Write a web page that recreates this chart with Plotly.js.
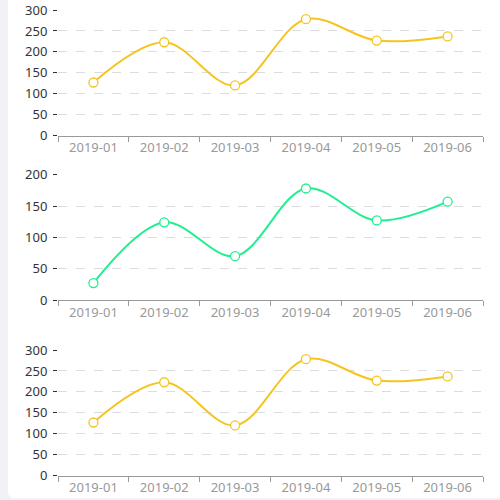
<!DOCTYPE html>
<html>
<head>
<meta charset="utf-8">
<script src="https://cdn.plot.ly/plotly-3.0.1.min.js"></script>
<style>
  html, body { margin: 0; padding: 0; background: #f1f2f7; width: 500px; height: 500px; overflow: hidden; }
  .card { position: absolute; left: 8px; top: -4px; width: 520px; height: 502px; background: #fff; border-radius: 6px; }
  #chart { position: absolute; left: 0; top: 0; width: 500px; height: 500px; }
</style>
</head>
<body>
<div class="card"></div>
<div id="chart"></div>
<script>
// months on the x axis
var months = ['2019-01', '2019-02', '2019-03', '2019-04', '2019-05', '2019-06'];

// values
var topValues = [127, 223, 120, 278, 227, 237];
var middleValues = [27, 124, 70, 178, 127, 157];
var bottomValues = [127, 223, 120, 278, 227, 237];

var yellow = '#f4c522';
var green = '#22ee90';

function lineTrace(values, color, xa, ya) {
    return {
        x: months,
        y: values,
        xaxis: xa,
        yaxis: ya,
        type: 'scatter',
        mode: 'lines+markers',
        line: { color: color, width: 2, shape: 'spline', smoothing: 1 },
        marker: { size: 9, color: '#fff', line: { color: color, width: 1.3 } },
        cliponaxis: false,
        hoverinfo: 'x+y'
    };
}

function xAxis(anchor) {
    return {
        anchor: anchor,
        type: 'category',
        range: [-0.5, 5.5],
        showline: true,
        linecolor: '#9a9a9a',
        linewidth: 1,
        ticks: 'outside',
        tickson: 'boundaries',
        ticklen: 5,
        tickcolor: '#9a9a9a',
        showgrid: false,
        zeroline: false,
        tickfont: { family: 'Noto Sans, sans-serif', size: 13, color: '#999' },
        fixedrange: true
    };
}

function yAxis(anchor, domain, max) {
    return {
        anchor: anchor,
        domain: domain,
        range: [0, max],
        dtick: 50,
        showline: false,
        ticks: 'outside',
        ticklen: 4,
        tickcolor: '#333',
        ticklabelstandoff: 3,
        showgrid: true,
        gridcolor: '#dcdcdc',
        griddash: 'dash',
        zeroline: false,
        tickfont: { family: 'Noto Sans, sans-serif', size: 13, color: '#333' },
        fixedrange: true
    };
}

var data = [
    lineTrace(topValues, yellow, 'x', 'y'),
    lineTrace(middleValues, green, 'x2', 'y2'),
    lineTrace(bottomValues, yellow, 'x3', 'y3')
];

var layout = {
    width: 500,
    height: 500,
    margin: { l: 58, r: 17, t: 0, b: 0 },
    paper_bgcolor: 'rgba(0,0,0,0)',
    plot_bgcolor: 'rgba(0,0,0,0)',
    showlegend: false,
    xaxis: xAxis('y'),
    yaxis: yAxis('x', [0.7286, 0.98], 300),
    xaxis2: xAxis('y2'),
    yaxis2: yAxis('x2', [0.4, 0.6506], 200),
    xaxis3: xAxis('y3'),
    yaxis3: yAxis('x3', [0.0486, 0.3], 300)
};

Plotly.newPlot('chart', data, layout, { displayModeBar: false, staticPlot: true });
</script>
</body>
</html>
